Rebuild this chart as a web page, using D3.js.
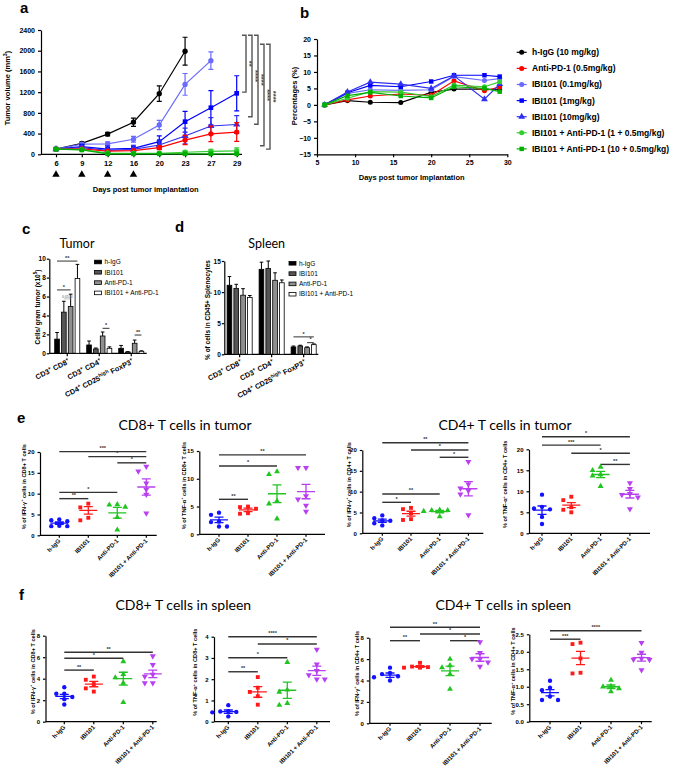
<!DOCTYPE html>
<html><head><meta charset="utf-8">
<script src="https://cdn.jsdelivr.net/npm/d3@7"></script>
<style>body{margin:0;background:#fff}svg{display:block}</style>
</head><body><svg id="fig" width="677" height="775"></svg>
<script>
// ================= DATA =================
// Panel a: tumor volume
const daysA = ['6','9','12','16','20','23','27','29'];
const dosingDays = ['6','9','12','16'];
const treatmentNames = ['h-IgG (10 mg/kg)','Anti-PD-1 (0.5mg/kg)','IBI101 (0.1mg/kg)','IBI101 (1mg/kg)','IBI101 (10mg/kg)','IBI101 + Anti-PD-1 (1 + 0.5mg/kg)','IBI101 + Anti-PD-1 (10 + 0.5mg/kg)'];
const volHIgG = [100,210,390,620,1170,1990];
const volHIgGErr = [10,25,35,80,150,270];
const volAntiPD1 = [100,105,60,70,130,275,395,430];
const volAntiPD1Err = [10,15,15,20,40,90,150,180];
const volIBI01 = [100,195,200,290,566,1350,1808];
const volIBI01Err = [10,30,40,55,90,210,170];
const volIBI1 = [100,150,100,115,244,630,900,1177];
const volIBI1Err = [10,40,60,60,110,200,330,340];
const volIBI10 = [100,130,75,95,180,354,547,575];
const volIBI10Err = [10,30,30,40,80,150,160,170];
const volCombo1 = [100,90,25,20,20,40,55,65];
const volCombo1Err = [10,10,8,8,10,30,40,60];
const volCombo10 = [100,85,10,10,10,10,10,10];
const volCombo10Err = [10,10,5,5,5,5,5,5];
const volTicks = [0,400,800,1200,1600,2000,2400];
const bracketTops = [2300,2300,2300,2125,2125];
const bracketBottoms = [1200,725,580,165,100];
const bracketLabels = ['**','****','****','****','****'];

// Panel b: percentages
const daysB = [6,9,12,16,20,23,27,29];
const pctHIgG = [0,1.3,0.8,0.7,3.8,4.8,4.8,4.6];
const pctAntiPD1 = [0,1.5,2.7,3.3,2.9,7.3,4.3,5.4];
const pctIBI01 = [0,3.5,4.6,4.4,4.6,8.6,7.4,8.0];
const pctIBI1 = [0,3.7,5.9,5.5,7.1,9.0,9.0,8.6];
const pctIBI10 = [0,3.9,6.9,6.3,5.0,8.8,1.7,6.3];
const pctCombo1 = [0,2.0,4.0,3.9,2.5,6.0,5.5,7.0];
const pctCombo10 = [0,2.8,3.8,2.7,2.1,5.5,5.0,4.0];
const pctTicksX = [5,10,15,20,25,30];
const pctTicksY = [-15,-10,-5,0,5,10,15,20];

// Panels c, d: bar charts
const cellGroups = ['h-IgG','IBI101','Anti-PD-1','IBI101 + Anti-PD-1'];
const subsets = ['CD3^+ CD8^+','CD3^+ CD4^+','CD4^+ CD25^{high} FoxP3^+'];
const tumorHIgG = [1.5,0.88,0.53], tumorHIgGErr = [0.7,0.42,0.3];
const tumorIBI101 = [4.35,0.46,0.13], tumorIBI101Err = [1.15,0.1,0.04];
const tumorAntiPD1 = [4.95,1.83,1.06], tumorAntiPD1Err = [1.3,0.42,0.34];
const tumorCombo = [7.9,0.53,0.21], tumorComboErr = [1.5,0.15,0.05];
const tumorTicks = [0,2,4,6,8,10];
const tumorSig = [[0,0,3,9.75,'**'],[0,0,2,6.7,'*'],[0,1,2,5.75,'0.0526'],[1,2,3,2.64,'*'],[2,2,3,1.93,'**']];
const spleenHIgG = [11.1,13.66,1.18], spleenHIgGErr = [1.4,1.15,0.15];
const spleenIBI101 = [10.6,13.8,1.34], spleenIBI101Err = [0.65,1.2,0.12];
const spleenAntiPD1 = [9.5,11.9,1.07], spleenAntiPD1Err = [1.05,1.2,0.12];
const spleenCombo = [9.15,11.5,1.55], spleenComboErr = [0.3,0.45,0.12];
const spleenTicks = [0,5,10,15];
const spleenSig = [[2,0,3,2.8,'*'],[2,2,3,1.87,'*']];

// Panels e, f: dot plots
const dotGroups = ['h-IgG','IBI101','Anti-PD-1','IBI101 + Anti-PD-1'];
const e1HIgG=[3.8,3.6,3.4,2.3,2.2,2.2], e1IBI101=[7.6,6.7,4.2,3.6], e1AntiPD1=[7.4,7.3,6.8,4.3,1.3], e1Combo=[16.5,15.4,12.5,11.0,9.8,5.3];
const e1Mean=[2.9,6.0,5.4,11.6], e1Sem=[0.3,0.9,1.3,1.95];
const e1Sig=[[0,3,20.1,'***'],[1,3,18.9,'*'],[2,3,17.4,'*'],[0,2,10.3,'*'],[0,1,8.8,'**']];
const e2HIgG=[3.9,3.5,2.3,2.2,1.4,1.4], e2IBI101=[5.0,4.9,4.6,3.8,3.7], e2AntiPD1=[11.3,10.8,6.0,5.5,2.8], e2Combo=[12.0,12.0,6.9,6.3,5.2,4.1];
const e2Mean=[2.6,4.4,7.3,7.7], e2Sem=[0.5,0.3,1.6,1.3];
const e2Sig=[[0,3,14.3,'**'],[0,2,12.3,'*'],[0,1,6.3,'**']];
const e3HIgG=[4.3,3.6,3.1,3.0,2.4,1.9], e3IBI101=[6.1,5.8,4.8,3.4,3.2], e3AntiPD1=[5.6,5.5,5.5,5.3,4.0], e3Combo=[17.2,11.8,10.8,10.2,9.4,4.4];
const e3Mean=[3.0,4.7,5.2,10.7], e3Sem=[0.4,0.6,0.3,1.7];
const e3Sig=[[0,3,21.75,'**'],[1,3,20.0,'*'],[2,3,18.25,'*'],[0,2,9.44,'**'],[0,1,7.44,'*']];
const e4HIgG=[9.2,6.3,5.9,5.7,3.9,2.2], e4IBI101=[8.7,7.9,6.2,5.6,5.0], e4AntiPD1=[15.8,15.0,14.0,13.7,11.2], e4Combo=[12.0,10.6,9.4,9.2,8.6,5.8];
const e4Mean=[5.5,6.7,14.0,9.3], e4Sem=[1.0,0.6,0.75,0.9];
const e4Sig=[[0,3,23.0,'*'],[0,2,21.0,'***'],[1,3,19.05,'*'],[2,3,16.4,'**']];
const f1HIgG=[3.2,2.6,2.6,2.3,2.1,1.6], f1IBI101=[4.2,3.9,3.5,3.1,2.8], f1AntiPD1=[5.6,4.4,4.1,3.6,1.8], f1Combo=[6.1,5.3,4.4,4.2,3.6,3.6];
const f1Mean=[2.35,3.5,4.0,4.45], f1Sem=[0.2,0.25,0.6,0.35];
const f1Sig=[[0,3,6.46,'**'],[0,2,5.9,'*'],[0,1,4.8,'**']];
const f2HIgG=[0.78,0.5,0.48,0.46,0.44,0.25], f2IBI101=[2.1,1.6,1.4,1.2,0.8], f2AntiPD1=[2.8,1.5,1.4,0.87,0.78], f2Combo=[3.4,2.7,2.4,2.2,2.0,2.0];
const f2Mean=[0.47,1.4,1.48,2.4], f2Sem=[0.08,0.25,0.38,0.22];
const f2Sig=[[0,3,4.0,'****'],[1,3,3.66,'*'],[0,2,3.01,'*'],[0,1,2.35,'**']];
const f3HIgG=[5.2,4.7,4.6,4.4,4.3,4.0], f3IBI101=[5.65,5.3,5.25,5.2,5.2], f3AntiPD1=[6.0,5.4,5.2,4.6,3.2], f3Combo=[7.6,6.6,6.0,6.0,5.7,5.3];
const f3Mean=[4.5,5.3,4.9,6.15], f3Sem=[0.2,0.08,0.45,0.35];
const f3Sig=[[0,3,8.97,'**'],[1,3,8.35,'*'],[0,1,7.72,'**'],[2,3,7.72,'*']];
const f4HIgG=[1.17,0.97,0.9,0.72,0.62,0.62], f4IBI101=[2.26,2.22,1.81,1.4,1.38], f4AntiPD1=[1.19,1.02,1.0,0.95,0.86], f4Combo=[2.26,1.98,1.81,1.78,1.77,1.48];
const f4Mean=[0.83,1.82,1.0,1.83], f4Sem=[0.09,0.19,0.05,0.1];
const f4Sig=[[0,3,2.6,'****'],[0,1,2.36,'***']];
const ticks0to20=[0,5,10,15,20], ticks0to15=[0,5,10,15], ticks0to8=[0,2,4,6,8], ticks0to4=[0,1,2,3,4], ticks0to25=[0,0.5,1.0,1.5,2.0,2.5];

// ================= STYLE / LAYOUT =================
const FONT = '"Liberation Sans", Arial, Helvetica, sans-serif';
const TFONT = 'Lato, "Open Sans", sans-serif';
const svg = d3.select('#fig').attr('font-family', FONT);
svg.append('rect').attr('width',677).attr('height',775).attr('fill','#fff');

function rich(t, str, fs) {
  const re = /\^\{([^}]*)\}|\^(.)/g; let last = 0, m; const parts = [];
  while ((m = re.exec(str))) { if (m.index > last) parts.push({t: str.slice(last, m.index), sup: false}); parts.push({t: m[1] || m[2], sup: true}); last = re.lastIndex; }
  if (last < str.length) parts.push({t: str.slice(last), sup: false});
  let up = false;
  parts.forEach(p => {
    const ts = t.append('tspan').text(p.t);
    if (p.sup) { ts.attr('font-size', fs * 0.7); if (!up) ts.attr('dy', -fs * 0.4); up = true; }
    else { if (up) ts.attr('dy', fs * 0.4); up = false; }
  });
  return t;
}
function styleAxis(g, fs) {
  g.attr('font-family', FONT);
  g.selectAll('text').attr('font-size', fs).attr('font-weight', 'bold').attr('fill', '#000');
  g.selectAll('line,path').attr('stroke', '#000').attr('stroke-width', 1.2);
}
function panelLetter(l, x, y) {
  svg.append('text').attr('x', x).attr('y', y).attr('font-size', 15).attr('font-weight', 'bold').text(l);
}
function symPath(shape, size) { return d3.symbol().type(shape).size(size)(); }

// ================= PANEL a =================
const colHIgG = '#000000', colAnti = '#ff0000', colIBI01 = '#6a6aff', colIBI1 = '#0000ff', colIBI10 = '#3030f0', colC1 = '#33cc33', colC10 = '#00b000';
panelLetter('a', 20, 13);
const xA = d3.scalePoint().domain(daysA).range([56, 236.7]);
const yA = d3.scaleLinear().domain([0, 2400]).range([154.3, 30]);
const gA = svg.append('g');
styleAxis(gA.append('g').attr('transform', 'translate(41,0)').call(d3.axisLeft(yA).tickValues(volTicks).tickFormat(d3.format('d')).tickSize(3).tickSizeOuter(0)), 7);
const xAxA = gA.append('g').attr('transform', `translate(0,${yA(0)})`).call(d3.axisBottom(xA).tickSize(3).tickSizeOuter(0));
xAxA.select('.domain').remove(); styleAxis(xAxA, 7.5);
gA.append('line').attr('x1', 41).attr('x2', 242).attr('y1', yA(0)).attr('y2', yA(0)).attr('stroke', '#000').attr('stroke-width', 1.2);
gA.selectAll('path.dose').data(dosingDays).join('path').attr('d', symPath(d3.symbolTriangle, 24))
  .attr('transform', d => `translate(${xA(d)},174.5)`).attr('fill', '#000');
gA.append('text').attr('x', 145.7).attr('y', 191.7).attr('text-anchor', 'middle').attr('font-size', 7.5).attr('font-weight', 'bold').text('Days post tumor implantation');
rich(gA.append('text').attr('transform', 'translate(10,88) rotate(-90)').attr('text-anchor', 'middle').attr('font-size', 7.5).attr('font-weight', 'bold'), 'Tumor volume (mm^3)', 7.5);
const seriesA = [
  {v: volHIgG, e: volHIgGErr, c: colHIgG, s: d3.symbolCircle},
  {v: volIBI01, e: volIBI01Err, c: colIBI01, s: d3.symbolCircle},
  {v: volIBI1, e: volIBI1Err, c: colIBI1, s: d3.symbolSquare},
  {v: volIBI10, e: volIBI10Err, c: colIBI10, s: d3.symbolTriangle},
  {v: volAntiPD1, e: volAntiPD1Err, c: colAnti, s: d3.symbolCircle},
  {v: volCombo1, e: volCombo1Err, c: colC1, s: d3.symbolCircle},
  {v: volCombo10, e: volCombo10Err, c: colC10, s: d3.symbolSquare}
];
seriesA.forEach(se => {
  const g = gA.append('g');
  g.append('path').attr('d', d3.line().x((d, i) => xA(daysA[i])).y(d => yA(d))(se.v)).attr('fill', 'none').attr('stroke', se.c).attr('stroke-width', 1.2);
  se.v.forEach((v, i) => {
    const x = xA(daysA[i]), y1 = yA(v + se.e[i]), y2 = yA(Math.max(0, v - se.e[i]));
    g.append('path').attr('d', `M${x},${y1}V${y2}M${x - 2.5},${y1}H${x + 2.5}M${x - 2.5},${y2}H${x + 2.5}`).attr('stroke', se.c).attr('stroke-width', 1.2).attr('fill', 'none');
    g.append('path').attr('d', symPath(se.s, 22)).attr('transform', `translate(${x},${yA(v)})`).attr('fill', se.c);
  });
});
bracketTops.forEach((t, i) => {
  const bx = 246 + i * 6, b = bracketBottoms[i];
  gA.append('path').attr('d', `M${bx - 4},${yA(t)}H${bx}V${yA(b)}H${bx - 4}`).attr('fill', 'none').attr('stroke', '#555').attr('stroke-width', 1.4);
  gA.append('text').attr('transform', `translate(${bx + 1.3},${(yA(t) + yA(b)) / 2}) rotate(90)`).attr('text-anchor', 'middle').attr('font-size', 7.5).attr('font-weight', 'bold').attr('fill', '#444').text(bracketLabels[i]);
});

// ================= PANEL b =================
panelLetter('b', 300, 18);
const xB = d3.scaleLinear().domain([5, 30]).range([317, 507.3]);
const yB = d3.scaleLinear().domain([-15, 20]).range([154.3, 39]);
const gB = svg.append('g');
styleAxis(gB.append('g').attr('transform', 'translate(317,0)').call(d3.axisLeft(yB).tickValues(pctTicksY).tickSize(3).tickSizeOuter(0)), 7);
styleAxis(gB.append('g').attr('transform', `translate(0,${yB(-15)})`).call(d3.axisBottom(xB).tickValues(pctTicksX).tickSize(3).tickSizeOuter(0)), 7);
gB.append('text').attr('x', 411.7).attr('y', 180).attr('text-anchor', 'middle').attr('font-size', 7.5).attr('font-weight', 'bold').text('Days post tumor Implantation');
gB.append('text').attr('transform', 'translate(297,96) rotate(-90)').attr('text-anchor', 'middle').attr('font-size', 7.5).attr('font-weight', 'bold').text('Percentages (%)');
const seriesB = [
  {v: pctHIgG, c: colHIgG, s: d3.symbolCircle},
  {v: pctAntiPD1, c: colAnti, s: d3.symbolCircle},
  {v: pctIBI01, c: colIBI01, s: d3.symbolCircle},
  {v: pctIBI1, c: colIBI1, s: d3.symbolSquare},
  {v: pctIBI10, c: colIBI10, s: d3.symbolTriangle},
  {v: pctCombo1, c: colC1, s: d3.symbolCircle},
  {v: pctCombo10, c: colC10, s: d3.symbolSquare}
];
seriesB.forEach((se, k) => {
  const g = gB.append('g');
  g.append('path').attr('d', d3.line().x((d, i) => xB(daysB[i])).y(d => yB(d))(se.v)).attr('fill', 'none').attr('stroke', se.c).attr('stroke-width', 1.2);
  g.selectAll('path.m').data(se.v).join('path').attr('d', symPath(se.s, 20)).attr('transform', (d, i) => `translate(${xB(daysB[i])},${yB(d)})`).attr('fill', se.c);
  const ly = 52.3 + k * 16.1;
  gB.append('line').attr('x1', 516.7).attr('x2', 526.7).attr('y1', ly).attr('y2', ly).attr('stroke', se.c).attr('stroke-width', 1.2);
  gB.append('path').attr('d', symPath(se.s, 20)).attr('transform', `translate(521.7,${ly})`).attr('fill', se.c);
  gB.append('text').attr('x', 532).attr('y', ly).attr('dy', '0.35em').attr('font-size', 8.5).attr('font-weight', 'bold').text(treatmentNames[k]);
});

// ================= PANELS c, d =================
const barFills = ['#000000', '#555555', '#8f8f8f', '#ffffff'];
function barPanel(L, vals, errs, ticks, sig, ylabel, title) {
  const g = svg.append('g');
  const x0 = d3.scaleBand().domain(subsets).range(L.range).paddingInner(0.216).paddingOuter(L.pad);
  const x1 = d3.scaleBand().domain(cellGroups).range([0, x0.bandwidth()]).paddingInner(0.31);
  const y = d3.scaleLinear().domain([0, L.yMax]).range([L.y0, L.yTop]);
  styleAxis(g.append('g').attr('transform', `translate(${L.axisX},0)`).call(d3.axisLeft(y).tickValues(ticks).tickSize(2.5).tickPadding(1).tickSizeOuter(0)), 6.5);
  g.append('line').attr('x1', L.axisX).attr('x2', L.xRight).attr('y1', L.y0).attr('y2', L.y0).attr('stroke', '#000').attr('stroke-width', 1.2);
  subsets.forEach((s, si) => {
    const cx = x0(s) + x0.bandwidth() / 2;
    g.append('line').attr('x1', cx).attr('x2', cx).attr('y1', L.y0).attr('y2', L.y0 + 3).attr('stroke', '#000').attr('stroke-width', 1.2);
    rich(g.append('text').attr('transform', `translate(${cx + 3},${L.y0 + 9.5}) rotate(-27)`).attr('text-anchor', 'end').attr('font-size', 7.3).attr('font-weight', 'bold'), s, 7.3);
  });
  vals.forEach((arr, gi) => arr.forEach((v, si) => {
    const bx = x0(subsets[si]) + x1(cellGroups[gi]), bw = x1.bandwidth(), cx = bx + bw / 2;
    const ye = y(v + errs[gi][si]);
    g.append('path').attr('d', `M${cx},${y(v)}V${ye}M${cx - 1.8},${ye}H${cx + 1.8}`).attr('stroke', '#000').attr('stroke-width', 1);
    g.append('rect').attr('x', bx).attr('y', y(v)).attr('width', bw).attr('height', L.y0 - y(v)).attr('fill', barFills[gi]).attr('stroke', '#000').attr('stroke-width', 0.8);
  }));
  sig.forEach(([si, a, b, lv, lab]) => {
    const xa = x0(subsets[si]) + x1(cellGroups[a]) + x1.bandwidth() / 2, xb = x0(subsets[si]) + x1(cellGroups[b]) + x1.bandwidth() / 2;
    const minor = !isNaN(+lab);
    g.append('line').attr('x1', xa).attr('x2', xb).attr('y1', y(lv)).attr('y2', y(lv)).attr('stroke', minor ? '#999' : '#333').attr('stroke-width', minor ? 0.6 : 1);
    g.append('text').attr('x', (xa + xb) / 2).attr('y', y(lv) - 1.2).attr('text-anchor', 'middle').attr('font-size', minor ? 3.5 : 5.5).attr('font-weight', 'bold').attr('fill', minor ? '#999' : '#333').text(lab);
  });
  cellGroups.forEach((c, i) => {
    const ly = L.legY + i * 10.3;
    g.append('rect').attr('x', L.legX).attr('y', ly - 1.8).attr('width', 7).attr('height', 3.6).attr('fill', barFills[i]).attr('stroke', '#000').attr('stroke-width', 0.8);
    g.append('text').attr('x', L.legX + 10).attr('y', ly).attr('dy', '0.35em').attr('font-size', 6.5).text(c);
  });
  rich(g.append('text').attr('transform', `translate(${L.labelX},${L.labelY}) rotate(-90)`).attr('text-anchor', 'middle').attr('font-size', 6.5).attr('font-weight', 'bold'), ylabel, 6.5);
  g.append('text').attr('x', L.titleX).attr('y', L.titleY).attr('text-anchor', 'middle').attr('font-family', TFONT).attr('font-size', 12.5).text(title);
}
panelLetter('c', 22, 234);
barPanel({range: [51.5, 147], pad: 0.1, axisX: 49.3, xRight: 146.7, y0: 353.3, yTop: 258.7, yMax: 10, legX: 94.5, legY: 262, labelX: 39.5, labelY: 307, titleX: 77, titleY: 248.3},
  [tumorHIgG, tumorIBI101, tumorAntiPD1, tumorCombo], [tumorHIgGErr, tumorIBI101Err, tumorAntiPD1Err, tumorComboErr], tumorTicks, tumorSig, 'Cells/ gram tumor (x10^5)', 'Tumor');
panelLetter('d', 175, 232);
barPanel({range: [225.5, 317.8], pad: 0.05, axisX: 224.3, xRight: 318.3, y0: 354.3, yTop: 261, yMax: 15, legX: 289, legY: 263.3, labelX: 210, labelY: 310, titleX: 266.7, titleY: 248.3},
  [spleenHIgG, spleenIBI101, spleenAntiPD1, spleenCombo], [spleenHIgGErr, spleenIBI101Err, spleenAntiPD1Err, spleenComboErr], spleenTicks, spleenSig, '% of cells in CD45+ Splenocytes', 'Spleen');

// ================= PANELS e, f =================
const dotColors = ['#1212ff', '#ff1a1a', '#22c422', '#b840f0'];
const dotShapes = [d3.symbolCircle, d3.symbolSquare, d3.symbolTriangle, 'down'];
function swarm(ys, step, thr) {
  const order = d3.range(ys.length).sort((a, b) => ys[a] - ys[b]);
  const placed = [], offs = new Array(ys.length), slots = [0, -1, 1, -2, 2, -3, 3];
  order.forEach(i => { for (const s of slots) { if (!placed.some(p => p.s === s && Math.abs(p.y - ys[i]) < thr)) { placed.push({s, y: ys[i]}); offs[i] = s * step; break; } } });
  return offs;
}
function dotPlot(L, groupVals, means, sems, ticks, fmt, sig, ylabel) {
  const g = svg.append('g');
  const x = d3.scalePoint().domain(dotGroups).range([L.cat0, L.cat0 + L.step * 3]);
  const y = d3.scaleLinear().domain([0, L.yMax]).range([L.y0, L.yTop]);
  styleAxis(g.append('g').attr('transform', `translate(${L.axisX},0)`).call(d3.axisLeft(y).tickValues(ticks).tickFormat(d3.format(fmt)).tickSize(2.5).tickSizeOuter(0)), 6);
  g.append('line').attr('x1', L.axisX).attr('x2', L.xRight).attr('y1', L.y0).attr('y2', L.y0).attr('stroke', '#000').attr('stroke-width', 1.2);
  dotGroups.forEach(c => {
    g.append('line').attr('x1', x(c)).attr('x2', x(c)).attr('y1', L.y0).attr('y2', L.y0 + 2.5).attr('stroke', '#000').attr('stroke-width', 1.2);
    g.append('text').attr('transform', `translate(${x(c) + 1.5},${L.y0 + 6}) rotate(-45)`).attr('text-anchor', 'end').attr('font-size', 6).attr('font-weight', 'bold').text(c);
  });
  sig.forEach(([a, b, lv, lab]) => {
    g.append('line').attr('x1', x(dotGroups[a])).attr('x2', x(dotGroups[b])).attr('y1', y(lv)).attr('y2', y(lv)).attr('stroke', '#333').attr('stroke-width', 1.4);
    g.append('text').attr('x', (x(dotGroups[a]) + x(dotGroups[b])) / 2).attr('y', y(lv) - 1.6).attr('text-anchor', 'middle').attr('font-size', 5.5).attr('font-weight', 'bold').attr('fill', '#333').text(lab);
  });
  groupVals.forEach((vals, gi) => {
    const cx = x(dotGroups[gi]), col = dotColors[gi];
    const offs = swarm(vals.map(v => y(v)), 8, 4.6);
    vals.forEach((v, k) => {
      const sh = dotShapes[gi];
      const p = g.append('path').attr('fill', col);
      if (sh === 'down') p.attr('d', symPath(d3.symbolTriangle, 16)).attr('transform', `translate(${cx + offs[k]},${y(v)}) rotate(180)`);
      else p.attr('d', symPath(sh, 15)).attr('transform', `translate(${cx + offs[k]},${y(v)})`);
    });
    const m = means[gi], s = sems[gi];
    g.append('path').attr('d', `M${cx - 9},${y(m)}H${cx + 9}M${cx},${y(m + s)}V${y(m - s)}M${cx - 4.5},${y(m + s)}H${cx + 4.5}M${cx - 4.5},${y(m - s)}H${cx + 4.5}`)
      .attr('fill', 'none').attr('stroke', col).attr('stroke-width', 1.3);
  });
  rich(g.append('text').attr('transform', `translate(${L.labelX + 2},${(L.y0 + L.yTop) / 2 - 7}) rotate(-90)`).attr('text-anchor', 'middle').attr('font-size', 5.6).attr('font-weight', 'bold'), ylabel, 5.6);
}
function title(t, x, y) { svg.append('text').attr('x', x).attr('y', y).attr('text-anchor', 'middle').attr('font-family', TFONT).attr('font-size', 14).text(t); }

panelLetter('e', 17, 423);
title('CD8+ T cells in tumor', 185, 430);
title('CD4+ T cells in tumor', 505, 430);
dotPlot({axisX: 40, y0: 535.3, yTop: 452, yMax: 20, xRight: 156.7, cat0: 59.3, step: 29, labelX: 23.5}, [e1HIgG, e1IBI101, e1AntiPD1, e1Combo], e1Mean, e1Sem, ticks0to20, 'd', e1Sig, '% of IFN-γ^+ cells in CD8+ T cells');
dotPlot({axisX: 199.3, y0: 534.3, yTop: 451, yMax: 15, xRight: 325, cat0: 219, step: 29, labelX: 183.5}, [e2HIgG, e2IBI101, e2AntiPD1, e2Combo], e2Mean, e2Sem, ticks0to15, 'd', e2Sig, '% of TNF-α^+ cells in CD8+ T cells');
dotPlot({axisX: 362.3, y0: 533.3, yTop: 450, yMax: 20, xRight: 483.3, cat0: 382.3, step: 28.7, labelX: 348.5}, [e3HIgG, e3IBI101, e3AntiPD1, e3Combo], e3Mean, e3Sem, ticks0to20, 'd', e3Sig, '% of IFN-γ^+ cells in CD4+ T cells');
dotPlot({axisX: 529, y0: 533.3, yTop: 449.3, yMax: 20, xRight: 650, cat0: 542, step: 29.3, labelX: 505}, [e4HIgG, e4IBI101, e4AntiPD1, e4Combo], e4Mean, e4Sem, ticks0to20, 'd', e4Sig, '% of TNF-α^+ cells in CD4+ T cells');

panelLetter('f', 19, 600);
title('CD8+ T cells in spleen', 183.3, 610);
title('CD4+ T cells in spleen', 503.3, 610);
dotPlot({axisX: 45.5, y0: 721.7, yTop: 635.7, yMax: 8, xRight: 156.7, cat0: 64.3, step: 29.5, labelX: 32.7}, [f1HIgG, f1IBI101, f1AntiPD1, f1Combo], f1Mean, f1Sem, ticks0to8, 'd', f1Sig, '% of IFN-γ^+ cells in CD8+ T cells');
dotPlot({axisX: 214, y0: 721.7, yTop: 636.7, yMax: 4, xRight: 330, cat0: 228.3, step: 29.5, labelX: 195}, [f2HIgG, f2IBI101, f2AntiPD1, f2Combo], f2Mean, f2Sem, ticks0to4, 'd', f2Sig, '% of TNF-α^+ cells in CD8+ T cells');
dotPlot({axisX: 369.3, y0: 723.3, yTop: 637.7, yMax: 8, xRight: 491.7, cat0: 390, step: 30, labelX: 356.7}, [f3HIgG, f3IBI101, f3AntiPD1, f3Combo], f3Mean, f3Sem, ticks0to8, 'd', f3Sig, '% of IFN-γ^+ cells in CD4+ T cells');
dotPlot({axisX: 529.3, y0: 721.7, yTop: 634.3, yMax: 2.5, xRight: 651.7, cat0: 550, step: 30.5, labelX: 513.3}, [f4HIgG, f4IBI101, f4AntiPD1, f4Combo], f4Mean, f4Sem, ticks0to25, '.1f', f4Sig, '% of TNF-α^+ cells in CD4+ T cells');
</script></body></html>
